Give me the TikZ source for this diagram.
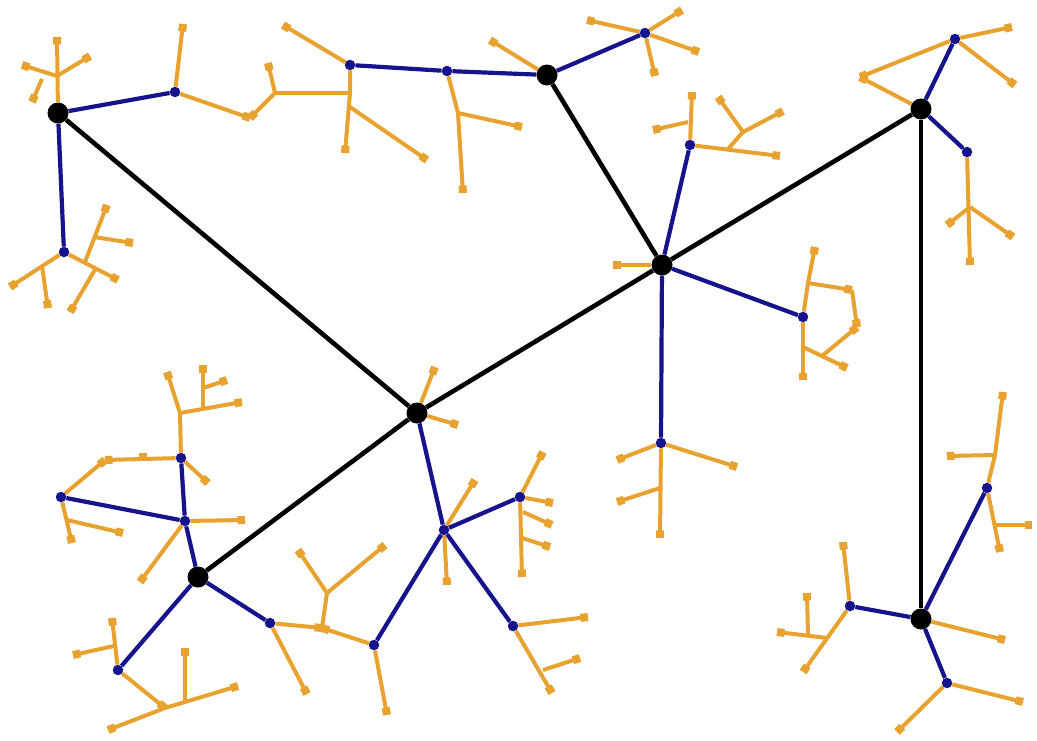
\documentclass[tikz,border=0pt]{standalone}
\usetikzlibrary{arrows.meta}
\definecolor{navy}{RGB}{22,20,140}
\definecolor{amber}{RGB}{232,162,48}

\begin{document}
\begin{tikzpicture}[x = 1pt, y = -1pt]
    \tikzstyle{hub}=[circle,fill=black,minimum size=21pt,inner sep=0pt]
    \tikzstyle{sub}=[circle,fill=navy,minimum size=10.5pt,inner sep=0pt]
    \tikzstyle{trunk}=[draw,line width = 4.6pt,black]
    \tikzstyle{link}=[draw,line width = 4.2pt,navy]
    \tikzstyle{twig}=[draw,line width = 4pt,amber,-{Square[length=7.5pt,width=8pt]}]
    \useasboundingbox (0,0) rectangle (1037,740);
    % hubs
    \node[hub] (A) at (58,113) {};
    \node[hub] (B) at (547,75) {};
    \node[hub] (C) at (662,265) {};
    \node[hub] (D) at (921,109) {};
    \node[hub] (E) at (417,413) {};
    \node[hub] (F) at (198,577) {};
    \node[hub] (G) at (921,619) {};
    % second level
    \node[sub] (a1) at (175,92) {};
    \node[sub] (a2) at (64,252) {};
    \node[sub] (b1) at (447,71) {};
    \node[sub] (b2) at (350,65) {};
    \node[sub] (b3) at (645,33) {};
    \node[sub] (c1) at (690,145) {};
    \node[sub] (c2) at (803,317) {};
    \node[sub] (c3) at (661,443) {};
    \node[sub] (d1) at (955,39) {};
    \node[sub] (d2) at (967,152) {};
    \node[sub] (e1) at (444,530) {};
    \node[sub] (e2) at (520,497) {};
    \node[sub] (e3) at (374,645) {};
    \node[sub] (e4) at (513,626) {};
    \node[sub] (f1) at (185,521) {};
    \node[sub] (f2) at (181,458) {};
    \node[sub] (f3) at (61,497) {};
    \node[sub] (f4) at (118,670) {};
    \node[sub] (f5) at (270,623) {};
    \node[sub] (g1) at (987,488) {};
    \node[sub] (g2) at (850,606) {};
    \node[sub] (g3) at (947,683) {};
    % leaves
    \draw[twig] (A) -- (57,37);
    \draw[twig] (57,76) -- (90,56);
    \draw[twig] (57,76) -- (22,65);
    \draw[twig] (42,79) -- (32,102);
    \draw[twig] (a1) -- (183,24);
    \draw[twig] (a1) -- (250,118);
    \draw[twig] (350,93) -- (275,93) -- (250,118);
    \draw[twig] (275,93) -- (268,63);
    \draw[twig] (b2) -- (350,93) -- (345,153);
    \draw[twig] (350,107) -- (427,160);
    \draw[twig] (b2) -- (283,25);
    \draw[twig] (b1) -- (458,113) -- (463,193);
    \draw[twig] (458,113) -- (522,127);
    \draw[twig] (B) -- (490,40);
    \draw[twig] (b3) -- (587,20);
    \draw[twig] (b3) -- (682,10);
    \draw[twig] (b3) -- (699,52);
    \draw[twig] (b3) -- (655,76);
    \draw[twig] (c1) -- (692,92);
    \draw[twig] (688,122) -- (653,130);
    \draw[twig] (c1) -- (780,156);
    \draw[twig] (728,149) -- (743,132) -- (718,97);
    \draw[twig] (743,132) -- (783,111);
    \draw[twig] (C) -- (613,265);
    \draw[twig] (c2) -- (808,283) -- (815,247);
    \draw[twig] (808,283) -- (852,290);
    \draw[twig] (852,290) -- (857,327);
    \draw[twig] (822,356) -- (857,327);
    \draw[twig] (c2) -- (803,380);
    \draw[twig] (803,347) -- (847,368);
    \draw[twig] (c3) -- (617,460);
    \draw[twig] (c3) -- (737,467);
    \draw[twig] (c3) -- (660,538);
    \draw[twig] (660,488) -- (617,502);
    \draw[twig] (D) -- (860,77);
    \draw[twig] (d1) -- (860,77);
    \draw[twig] (d1) -- (1012,27);
    \draw[twig] (d1) -- (1015,85);
    \draw[twig] (d2) -- (970,265);
    \draw[twig] (970,207) -- (947,225);
    \draw[twig] (970,207) -- (1013,237);
    \draw[twig] (E) -- (435,367);
    \draw[twig] (E) -- (458,425);
    \draw[twig] (e1) -- (475,480);
    \draw[twig] (e1) -- (447,585);
    \draw[twig] (e2) -- (543,452);
    \draw[twig] (e2) -- (522,577);
    \draw[twig] (e2) -- (553,503);
    \draw[twig] (523,512) -- (552,525);
    \draw[twig] (522,538) -- (550,547);
    \draw[twig] (e4) -- (588,617);
    \draw[twig] (e4) -- (552,693);
    \draw[twig] (543,670) -- (580,658);
    \draw[twig] (e3) -- (387,715);
    \draw[twig] (e3) -- (322,628);
    \draw[twig] (f5) -- (322,628);
    \draw[twig] (322,628) -- (327,593) -- (385,545);
    \draw[twig] (327,593) -- (298,550);
    \draw[twig] (f5) -- (307,694);
    \draw[twig] (f1) -- (140,582);
    \draw[twig] (f1) -- (245,520);
    \draw[twig] (f2) -- (180,413) -- (167,372);
    \draw[twig] (180,413) -- (242,402);
    \draw[twig] (203,408) -- (203,365);
    \draw[twig] (203,388) -- (227,380);
    \draw[twig] (f2) -- (208,483);
    \draw[twig] (f2) -- (105,460);
    \draw[twig] (f3) -- (105,460);
    \draw[twig] (143,460) -- (143,453);
    \draw[twig] (f3) -- (72,543);
    \draw[twig] (67,520) -- (123,533);
    \draw[twig] (f4) -- (112,618);
    \draw[twig] (114,646) -- (73,655);
    \draw[twig] (f4) -- (165,708);
    \draw[twig] (165,708) -- (238,686);
    \draw[twig] (165,708) -- (108,730);
    \draw[twig] (185,702) -- (185,648);
    \draw[twig] (a2) -- (10,287);
    \draw[twig] (42,266) -- (48,308);
    \draw[twig] (a2) -- (118,280);
    \draw[twig] (96,268) -- (70,312);
    \draw[twig] (85,262) -- (107,205);
    \draw[twig] (94,237) -- (133,243);
    \draw[twig] (G) -- (1005,640);
    \draw[twig] (g1) -- (995,455) -- (1003,392);
    \draw[twig] (995,455) -- (947,456);
    \draw[twig] (g1) -- (1000,552);
    \draw[twig] (995,525) -- (1032,525);
    \draw[twig] (g2) -- (843,542);
    \draw[twig] (g2) -- (803,672);
    \draw[twig] (827,638) -- (777,632);
    \draw[twig] (808,636) -- (807,593);
    \draw[twig] (g3) -- (1023,702);
    \draw[twig] (g3) -- (897,732);
    % second level links
    \draw[link] (A) -- (a1);
    \draw[link] (A) -- (a2);
    \draw[link] (B) -- (b1);
    \draw[link] (b1) -- (b2);
    \draw[link] (B) -- (b3);
    \draw[link] (C) -- (c1);
    \draw[link] (C) -- (c2);
    \draw[link] (C) -- (c3);
    \draw[link] (D) -- (d1);
    \draw[link] (D) -- (d2);
    \draw[link] (E) -- (e1);
    \draw[link] (e1) -- (e2);
    \draw[link] (e1) -- (e3);
    \draw[link] (e1) -- (e4);
    \draw[link] (F) -- (f1);
    \draw[link] (f1) -- (f2);
    \draw[link] (f1) -- (f3);
    \draw[link] (F) -- (f4);
    \draw[link] (F) -- (f5);
    \draw[link] (G) -- (g1);
    \draw[link] (G) -- (g2);
    \draw[link] (G) -- (g3);
    % backbone
    \draw[trunk] (A) -- (E);
    \draw[trunk] (B) -- (C);
    \draw[trunk] (C) -- (D);
    \draw[trunk] (C) -- (E);
    \draw[trunk] (E) -- (F);
    \draw[trunk] (D) -- (G);
\end{tikzpicture}
\end{document}
